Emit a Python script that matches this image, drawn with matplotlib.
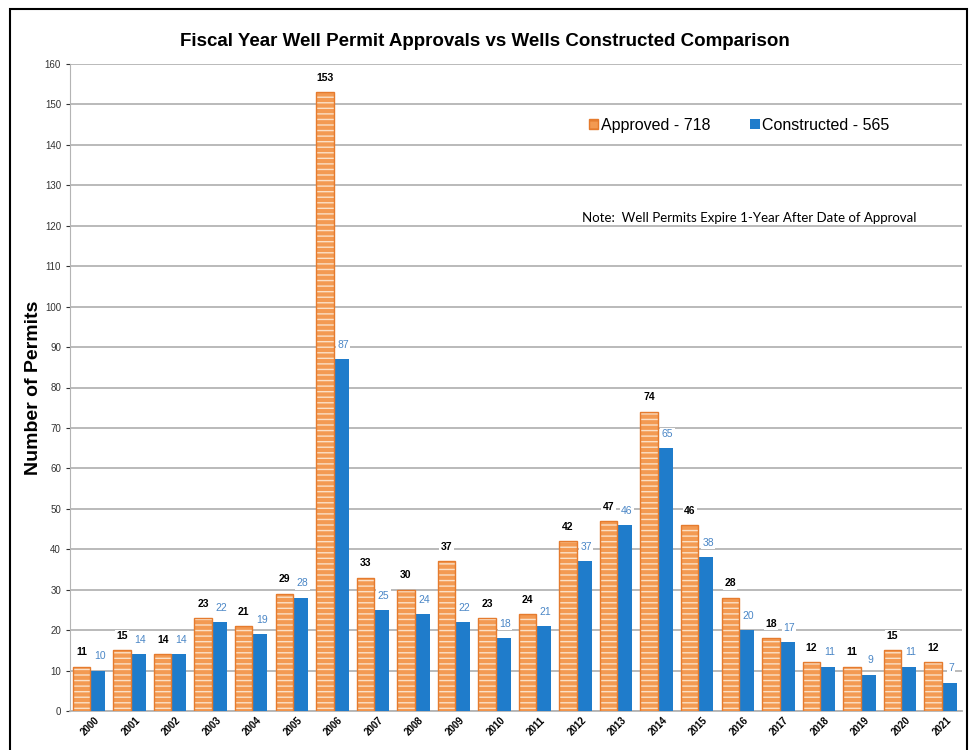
import numpy as np
import matplotlib.pyplot as plt
from matplotlib.patches import Rectangle, Patch

plt.rcParams['font.family'] = ['Liberation Sans', 'DejaVu Sans']
plt.rcParams['hatch.linewidth'] = 1.0

# --- data ---------------------------------------------------------
years = [str(y) for y in range(2000, 2022)]
approved = [11, 15, 14, 23, 21, 29, 153, 33, 30, 37, 23, 24, 42, 47, 74, 46, 28, 18, 12, 11, 15, 12]
constructed = [10, 14, 14, 22, 19, 28, 87, 25, 24, 22, 18, 21, 37, 46, 65, 38, 20, 17, 11, 9, 11, 7]
legend_labels = [f"Approved - {sum(approved)}", f"Constructed - {sum(constructed)}"]

orange = '#F39A52'
orange_edge = '#E57B2E'
blue = '#1F7CCB'

fig = plt.figure(figsize=(9.7, 7.5), dpi=100)
ax = fig.add_axes([70 / 970, 1 - 711 / 750, 892 / 970, (711 - 64) / 750])

x = np.arange(len(years))
w_a, w_c = 0.43, 0.37

# orange bars with light horizontal hatch
ax.bar(x, approved, width=-w_a, align='edge', color=orange, edgecolor='#FBE0C6',
       hatch='---', linewidth=0, zorder=3)
ax.bar(x, approved, width=-w_a, align='edge', fill=False, edgecolor=orange_edge,
       linewidth=1, zorder=4)
ax.bar(x, constructed, width=w_c, align='edge', color=blue, zorder=3)

# value labels
for xi, v in zip(x, approved):
    ax.text(xi - w_a / 2, v + 2.3, str(v), ha='center', va='bottom', fontsize=7.5,
            fontweight='bold', color='black', zorder=5,
            bbox=dict(facecolor='white', edgecolor='none', pad=1))
for xi, v in zip(x, constructed):
    ax.text(xi + w_c / 2 + 0.05, v + 2.3, str(v), ha='center', va='bottom', fontsize=7.5,
            color='#4A86C6', zorder=5,
            bbox=dict(facecolor='white', edgecolor='none', pad=1))

ax.set_xlim(-0.5, 21.5)
ax.set_ylim(0, 160)
ax.set_yticks(range(0, 161, 10))
ax.tick_params(axis='y', labelsize=7, colors='#333333', length=3)
ax.set_xticks(x)
ax.set_xticklabels(years, rotation=45, fontsize=7, fontweight='bold')
ax.tick_params(axis='x', length=0, pad=3)
ax.grid(axis='y', color='#B4B4B4', linewidth=1.3, zorder=0)
ax.set_axisbelow(True)
for s in ['top', 'right']:
    ax.spines[s].set_visible(False)
ax.spines['left'].set_color('#B4B4B4')
ax.spines['bottom'].set_color('#B4B4B4')
ax.spines['bottom'].set_linewidth(1.3)

ax.set_ylabel("Number of Permits", fontsize=14, fontweight='bold', labelpad=2)

handles = [Patch(facecolor=orange, edgecolor=orange_edge, hatch='--'),
           Patch(facecolor=blue)]
ax.legend(handles, legend_labels, loc='center', bbox_to_anchor=(0.75, 0.905), ncol=2,
          frameon=False, fontsize=11.5, handlelength=0.6, handleheight=0.6,
          handletextpad=0.15, columnspacing=2.5)

ax.text(0.762, 0.753, "Note:  Well Permits Expire 1-Year After Date of Approval",
        transform=ax.transAxes, ha='center', va='bottom', fontsize=9.5, zorder=6,
        family=['Lato', 'DejaVu Sans'],
        bbox=dict(facecolor='white', edgecolor='none', pad=1))

fig.text(0.5, 0.944, "Fiscal Year Well Permit Approvals vs Wells Constructed Comparison",
         ha='center', va='center', fontsize=13.5, fontweight='bold')

# outer frame
fig.patches.append(Rectangle((10 / 970, -0.01), 957 / 970, 0.998, transform=fig.transFigure,
                             fill=False, edgecolor='black', linewidth=1.5))

fig.savefig('out.png', dpi=100)
